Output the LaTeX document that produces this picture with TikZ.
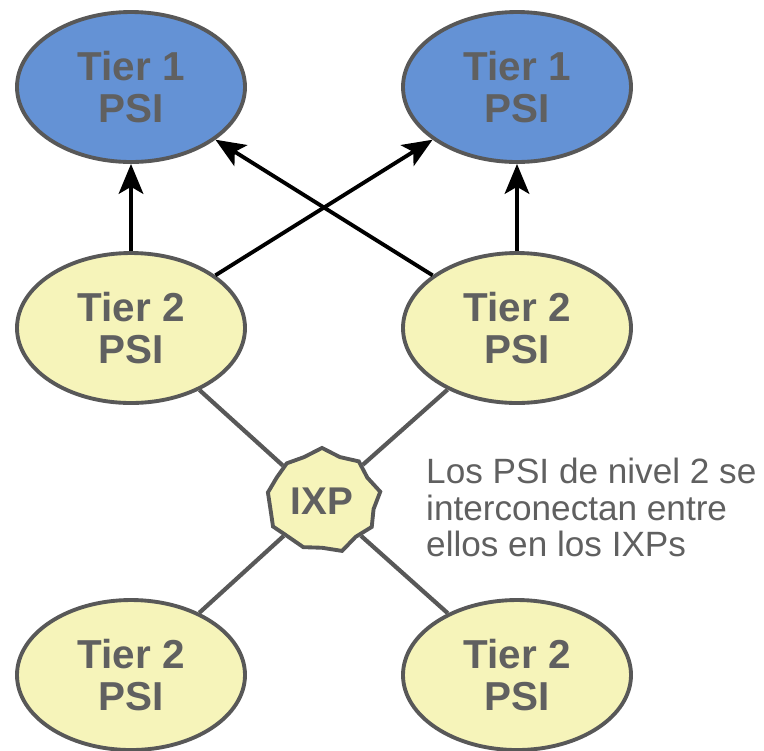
\documentclass[tikz,border=0pt]{standalone}
\usepackage{fontspec}
\setmainfont{Liberation Sans}
\definecolor{tierblue}{RGB}{100, 146, 213}
\definecolor{tieryellow}{RGB}{246, 244, 186}
\definecolor{edgegray}{RGB}{88, 88, 88}
\definecolor{textgray}{RGB}{96, 96, 96}
\usetikzlibrary{shapes.geometric, shapes.symbols, arrows.meta}

\begin{document}
\begin{tikzpicture}[
    psi/.style={ellipse, draw=edgegray, line width=2.2pt, minimum width=4.56cm,
      minimum height=3.0cm, align=center, text=textgray,
      font=\bfseries\fontsize{23}{24}\selectfont},
    peer/.style={edgegray, line width=2.4pt},
    up/.style={-{Stealth[length=17pt, width=14pt, inset=4pt]}, line width=2.2pt}
  ]
  \useasboundingbox (0, 0) rectangle (15.28, -15);

  % Tier 1
  \node[psi, fill=tierblue] (t1l) at (2.62, -1.74) {Tier 1\\PSI};
  \node[psi, fill=tierblue] (t1r) at (10.34, -1.74) {Tier 1\\PSI};

  % Tier 2
  \node[psi, fill=tieryellow] (t2l) at (2.62, -6.56) {Tier 2\\PSI};
  \node[psi, fill=tieryellow] (t2r) at (10.34, -6.56) {Tier 2\\PSI};
  \node[psi, fill=tieryellow] (t2bl) at (2.62, -13.5) {Tier 2\\PSI};
  \node[psi, fill=tieryellow] (t2br) at (10.34, -13.5) {Tier 2\\PSI};

  % IXP
  \node[starburst, starburst points=9, starburst point height=0.14cm,
    random starburst=7, fill=tieryellow, draw=edgegray, line width=2.2pt,
    minimum width=2.15cm, minimum height=2.15cm, text=textgray,
    font=\bfseries\fontsize{22}{24}\selectfont] (ixp) at (6.44, -10.02) {IXP};

  % Tier 2 -> Tier 1
  \draw[up] (t2l) -- (t1l);
  \draw[up] (t2r) -- (t1r);
  \draw[up] (t2l) -- (t1r);
  \draw[up] (t2r) -- (t1l);

  % peering at the IXP
  \draw[peer] (ixp) -- (t2l);
  \draw[peer] (ixp) -- (t2r);
  \draw[peer] (ixp) -- (t2bl);
  \draw[peer] (ixp) -- (t2br);

  \node[anchor=west, align=left, text=textgray, font=\fontsize{20}{21}\selectfont]
    (note) at (8.4, -10.15) {Los PSI de nivel 2 se\\interconectan entre\\ellos en los IXPs};
\end{tikzpicture}
\end{document}
